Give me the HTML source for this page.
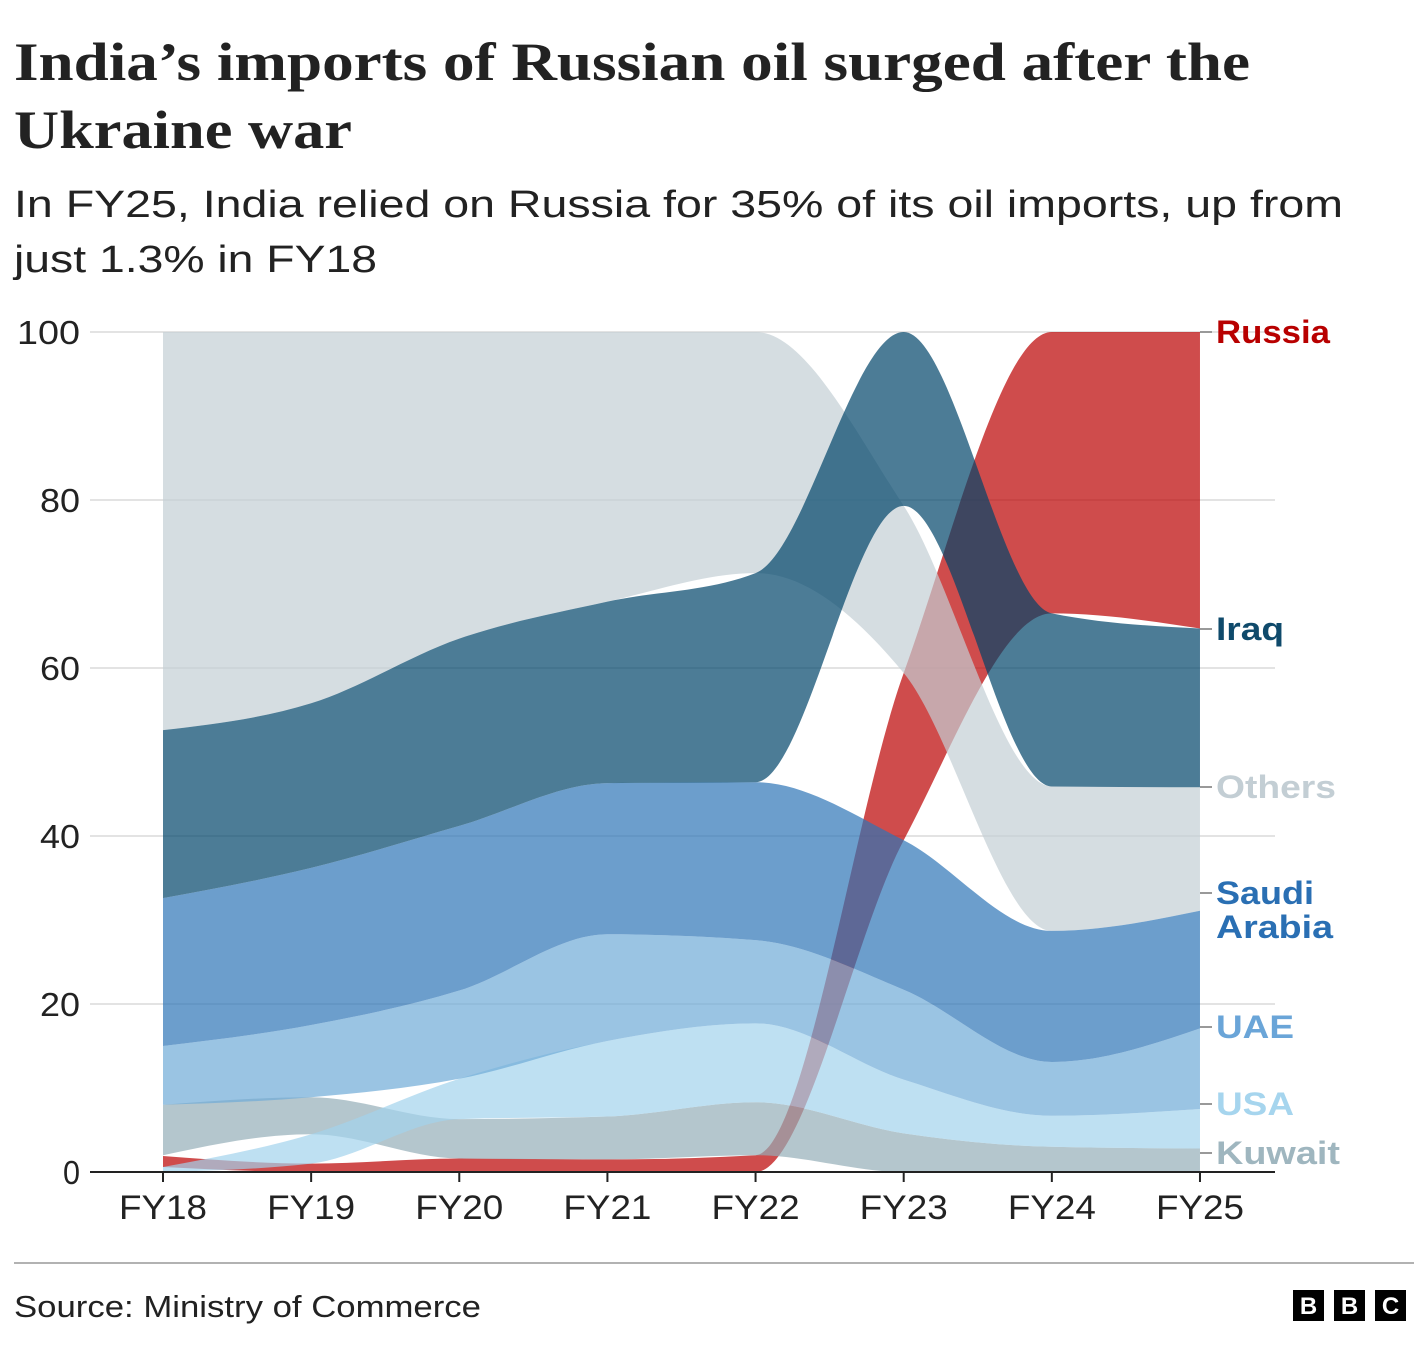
<!DOCTYPE html>
<html><head><meta charset="utf-8"><style>
body{margin:0;background:#fff;width:1428px;height:1348px;overflow:hidden;font-family:"Liberation Sans",sans-serif}
</style></head><body>
<svg id="s" width="1428" height="1348" xmlns="http://www.w3.org/2000/svg">
<text x="14" y="80" font-family="Liberation Serif,serif" font-weight="bold" font-size="54" fill="#222" textLength="1236" lengthAdjust="spacingAndGlyphs">India’s imports of Russian oil surged after the</text>
<text x="14" y="148" font-family="Liberation Serif,serif" font-weight="bold" font-size="54" fill="#222" textLength="338" lengthAdjust="spacingAndGlyphs">Ukraine war</text>
<text x="14" y="217" font-size="38" fill="#222" textLength="1329" lengthAdjust="spacingAndGlyphs">In FY25, India relied on Russia for 35% of its oil imports, up from</text>
<text x="14" y="272" font-size="38" fill="#222" textLength="363" lengthAdjust="spacingAndGlyphs">just 1.3% in FY18</text>
<g id="grid"></g>
<g id="areas"></g>
<g id="axes"></g>
<line x1="14" y1="1263" x2="1414" y2="1263" stroke="#999" stroke-width="1.5"/>
<text x="14" y="1317" font-size="31" fill="#222" textLength="467" lengthAdjust="spacingAndGlyphs">Source: Ministry of Commerce</text>
<g font-weight="bold" font-size="24" fill="#fff" text-anchor="middle">
<rect x="1293" y="1290" width="31" height="31" fill="#000"/><text x="1308.5" y="1314">B</text>
<rect x="1334" y="1290" width="31" height="31" fill="#000"/><text x="1349.5" y="1314">B</text>
<rect x="1375" y="1290" width="31" height="31" fill="#000"/><text x="1390.5" y="1314">C</text>
</g>
</svg>
<script>
var NS="http://www.w3.org/2000/svg";
function el(t,a,p,txt){var e=document.createElementNS(NS,t);for(var k in a)e.setAttribute(k,a[k]);if(txt!==undefined)e.textContent=txt;document.getElementById(p).appendChild(e);return e;}
function X(i){return 163+i*148.14;}
function Y(v){return 1172-v*8.4;}
for(var v=0;v<=100;v+=20){
 if(v>0)el('line',{x1:90,x2:1275,y1:Y(v),y2:Y(v),stroke:'#e3e3e3','stroke-width':2},'grid');
 var w=v==0?17:(v==100?63:40);
 el('text',{x:80,y:Y(v)+12,'text-anchor':'end','font-size':33,fill:'#222',textLength:w,lengthAdjust:'spacingAndGlyphs'},'grid',String(v));
}
var yrs=['FY18','FY19','FY20','FY21','FY22','FY23','FY24','FY25'];
el('line',{x1:90,x2:1275,y1:1172,y2:1172,stroke:'#222','stroke-width':2},'axes');
yrs.forEach(function(y,i){el('line',{x1:X(i),x2:X(i),y1:1172,y2:1182,stroke:'#222','stroke-width':2},'axes');
 el('text',{x:X(i),y:1219,'text-anchor':'middle','font-size':34,fill:'#222',textLength:88,lengthAdjust:'spacingAndGlyphs'},'axes',y);});
// monotone X tangents
function tangents(xs,ys){var n=xs.length,m=[],t=[];
 for(var i=0;i<n-1;i++)m.push((ys[i+1]-ys[i])/(xs[i+1]-xs[i]));
 for(var i=0;i<n;i++){
  if(i==0||i==n-1){t.push(0);continue;}
  var s0=m[i-1],s1=m[i],h0=xs[i]-xs[i-1],h1=xs[i+1]-xs[i];
  var p=(s0*h1+s1*h0)/(h0+h1);
  var v=(Math.sign(s0)+Math.sign(s1))*Math.min(Math.abs(s0),Math.abs(s1),0.5*Math.abs(p))||0;
  t.push(v);}
 // endpoints like d3 slope2
 t[0]=n>1?(3*m[0]-t[1])/2:0; t[n-1]=(3*m[n-2]-t[n-2])/2;
 return t;}
function seg(xs,ys,rev){
 var t=tangents(xs,ys),n=xs.length,p='';
 if(!rev){for(var i=1;i<n;i++){var dx=(xs[i]-xs[i-1])/3;p+=' C'+(xs[i-1]+dx)+','+(ys[i-1]+dx*t[i-1])+' '+(xs[i]-dx)+','+(ys[i]-dx*t[i])+' '+xs[i]+','+ys[i];}}
 else{for(var i=n-1;i>0;i--){var dx=(xs[i]-xs[i-1])/3;p+=' C'+(xs[i]-dx)+','+(ys[i]-dx*t[i])+' '+(xs[i-1]+dx)+','+(ys[i-1]+dx*t[i-1])+' '+xs[i-1]+','+ys[i-1];}}
 return p;}
var S=[
 ['Russia','#bb0000',[[0.6,1.9],[0,1.0],[0,1.6],[0,1.5],[0,2.0],[39.5,59.4],[66.5,100],[64.7,100]]],
 ['Others','#c3ced4',[[52.6,100],[55.8,100],[63.5,100],[67.9,100],[71.3,100],[59.4,79.3],[28.7,45.9],[31.1,45.8]]],
 ['Kuwait','#94aeb8',[[2.0,8.0],[4.5,8.9],[1.6,6.3],[1.5,6.6],[2.0,8.3],[0,4.6],[0,3.0],[0,2.8]]],
 ['USA','#a2d3ed',[[0,0.6],[1.0,4.5],[6.3,11.1],[6.6,15.6],[8.3,17.7],[4.6,11],[3,6.7],[2.8,7.5]]],
 ['UAE','#6fabd7',[[8,15],[8.9,17.5],[11.1,21.6],[15.6,28.3],[17.7,27.6],[11,21.7],[6.7,13.1],[7.5,17.1]]],
 ['Saudi','#2e75b6',[[15,32.6],[17.5,36.2],[21.6,41.2],[28.3,46.3],[27.6,46.4],[21.7,39.5],[13.1,28.7],[17.1,31.1]]],
 ['Iraq','#00456a',[[32.6,52.6],[36.2,55.8],[41.2,63.5],[46.3,67.9],[46.4,71.3],[79.3,100],[45.9,66.5],[45.8,64.7]]]
];
var xs=[0,1,2,3,4,5,6,7].map(X);
S.forEach(function(s){
 var d=s[2],top=d.map(function(a){return Y(a[1]);}),bot=d.map(function(a){return Y(a[0]);});
 var p='M'+xs[0]+','+top[0]+seg(xs,top,false)+' L'+xs[7]+','+bot[7]+seg(xs,bot,true)+'Z';
 el('path',{d:p,fill:s[1],'fill-opacity':0.7},'areas');
});
var L=[['Russia',332,'#b80000',114],['Iraq',629,'#0f4a6b',68],['Others',787,'#c3ced4',120],['Saudi',893,'#2a6fb3',98],['Arabia',927,'#2a6fb3',117,1],['UAE',1027,'#6aa5d8',78],['USA',1104,'#a6d5ee',78],['Kuwait',1153,'#9fb6bf',124]];
L.forEach(function(l){
 if(!l[4])el('line',{x1:1200,x2:1212,y1:l[1],y2:l[1],stroke:'#999','stroke-width':2},'axes');
 el('text',{x:1216,y:l[1]+11,'font-size':32,'font-weight':'bold',fill:l[2],textLength:l[3],lengthAdjust:'spacingAndGlyphs'},'axes',l[0]);
});
</script>
</body></html>
